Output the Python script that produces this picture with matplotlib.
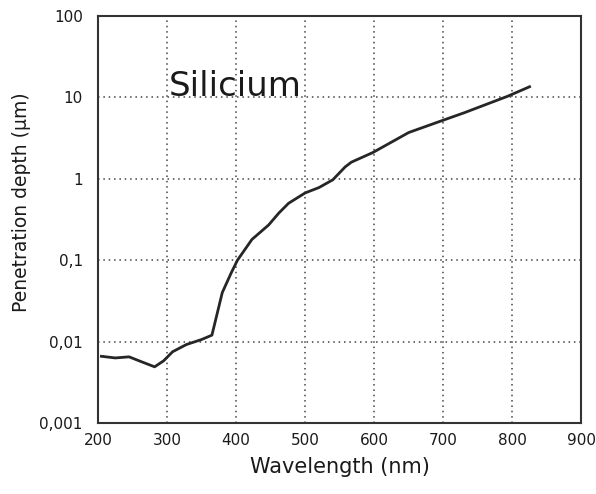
import numpy as np
import matplotlib
matplotlib.use('Agg')
import matplotlib.pyplot as plt
from matplotlib.ticker import FixedLocator, NullLocator

## Data
wavelength = [205, 225, 245, 262, 282, 295, 308, 328, 350, 365, 380, 393, 402,
              423, 447, 462, 476, 500, 520, 540, 558, 567, 598, 650, 696, 731,
              793, 825]
depth = [0.0066, 0.0063, 0.0065, 0.0057, 0.0049, 0.0058, 0.0075, 0.0092, 0.0106,
         0.012, 0.04, 0.07, 0.1, 0.18, 0.27, 0.38, 0.5, 0.67, 0.78, 0.97, 1.4,
         1.6, 2.1, 3.7, 5.1, 6.5, 10.3, 13.5]

x_ticks = [200, 300, 400, 500, 600, 700, 800, 900]
y_ticks = [0.001, 0.01, 0.1, 1, 10, 100]
y_tick_labels = ['0,001', '0,01', '0,1', '1', '10', '100']

plt.rcParams['font.family'] = ['DejaVu Sans']

fig = plt.figure(figsize=(5.96, 4.94), dpi=100)
ax = fig.add_axes([0.1644, 0.1437, 0.811, 0.824])

ax.plot(wavelength, depth, color='#262626', linewidth=2.0)

ax.set_yscale('log')
ax.set_xlim(200, 900)
ax.set_ylim(0.001, 100)
ax.xaxis.set_major_locator(FixedLocator(x_ticks))
ax.yaxis.set_major_locator(FixedLocator(y_ticks))
ax.yaxis.set_minor_locator(NullLocator())
ax.set_yticklabels(y_tick_labels)
ax.tick_params(axis='both', length=0, labelsize=11, colors='#1a1a1a')
ax.tick_params(axis='y', pad=11)
ax.tick_params(axis='x', pad=7)

ax.grid(True, which='major', linestyle=(0, (1, 2.5)), color='#444444', linewidth=1.1)
for s in ax.spines.values():
    s.set_linewidth(1.5)
    s.set_color('#333333')

ax.text(302, 10.3, 'Silicium', fontsize=24.5, color='#1a1a1a', ha='left', va='baseline')

ax.set_xlabel('Wavelength (nm)', fontsize=15, color='#1a1a1a', labelpad=7)
ax.set_ylabel('Penetration depth (µm)', fontsize=13.5, color='#1a1a1a')
ax.yaxis.set_label_coords(-0.138, 0.543)

fig.savefig('out.png', dpi=100)
